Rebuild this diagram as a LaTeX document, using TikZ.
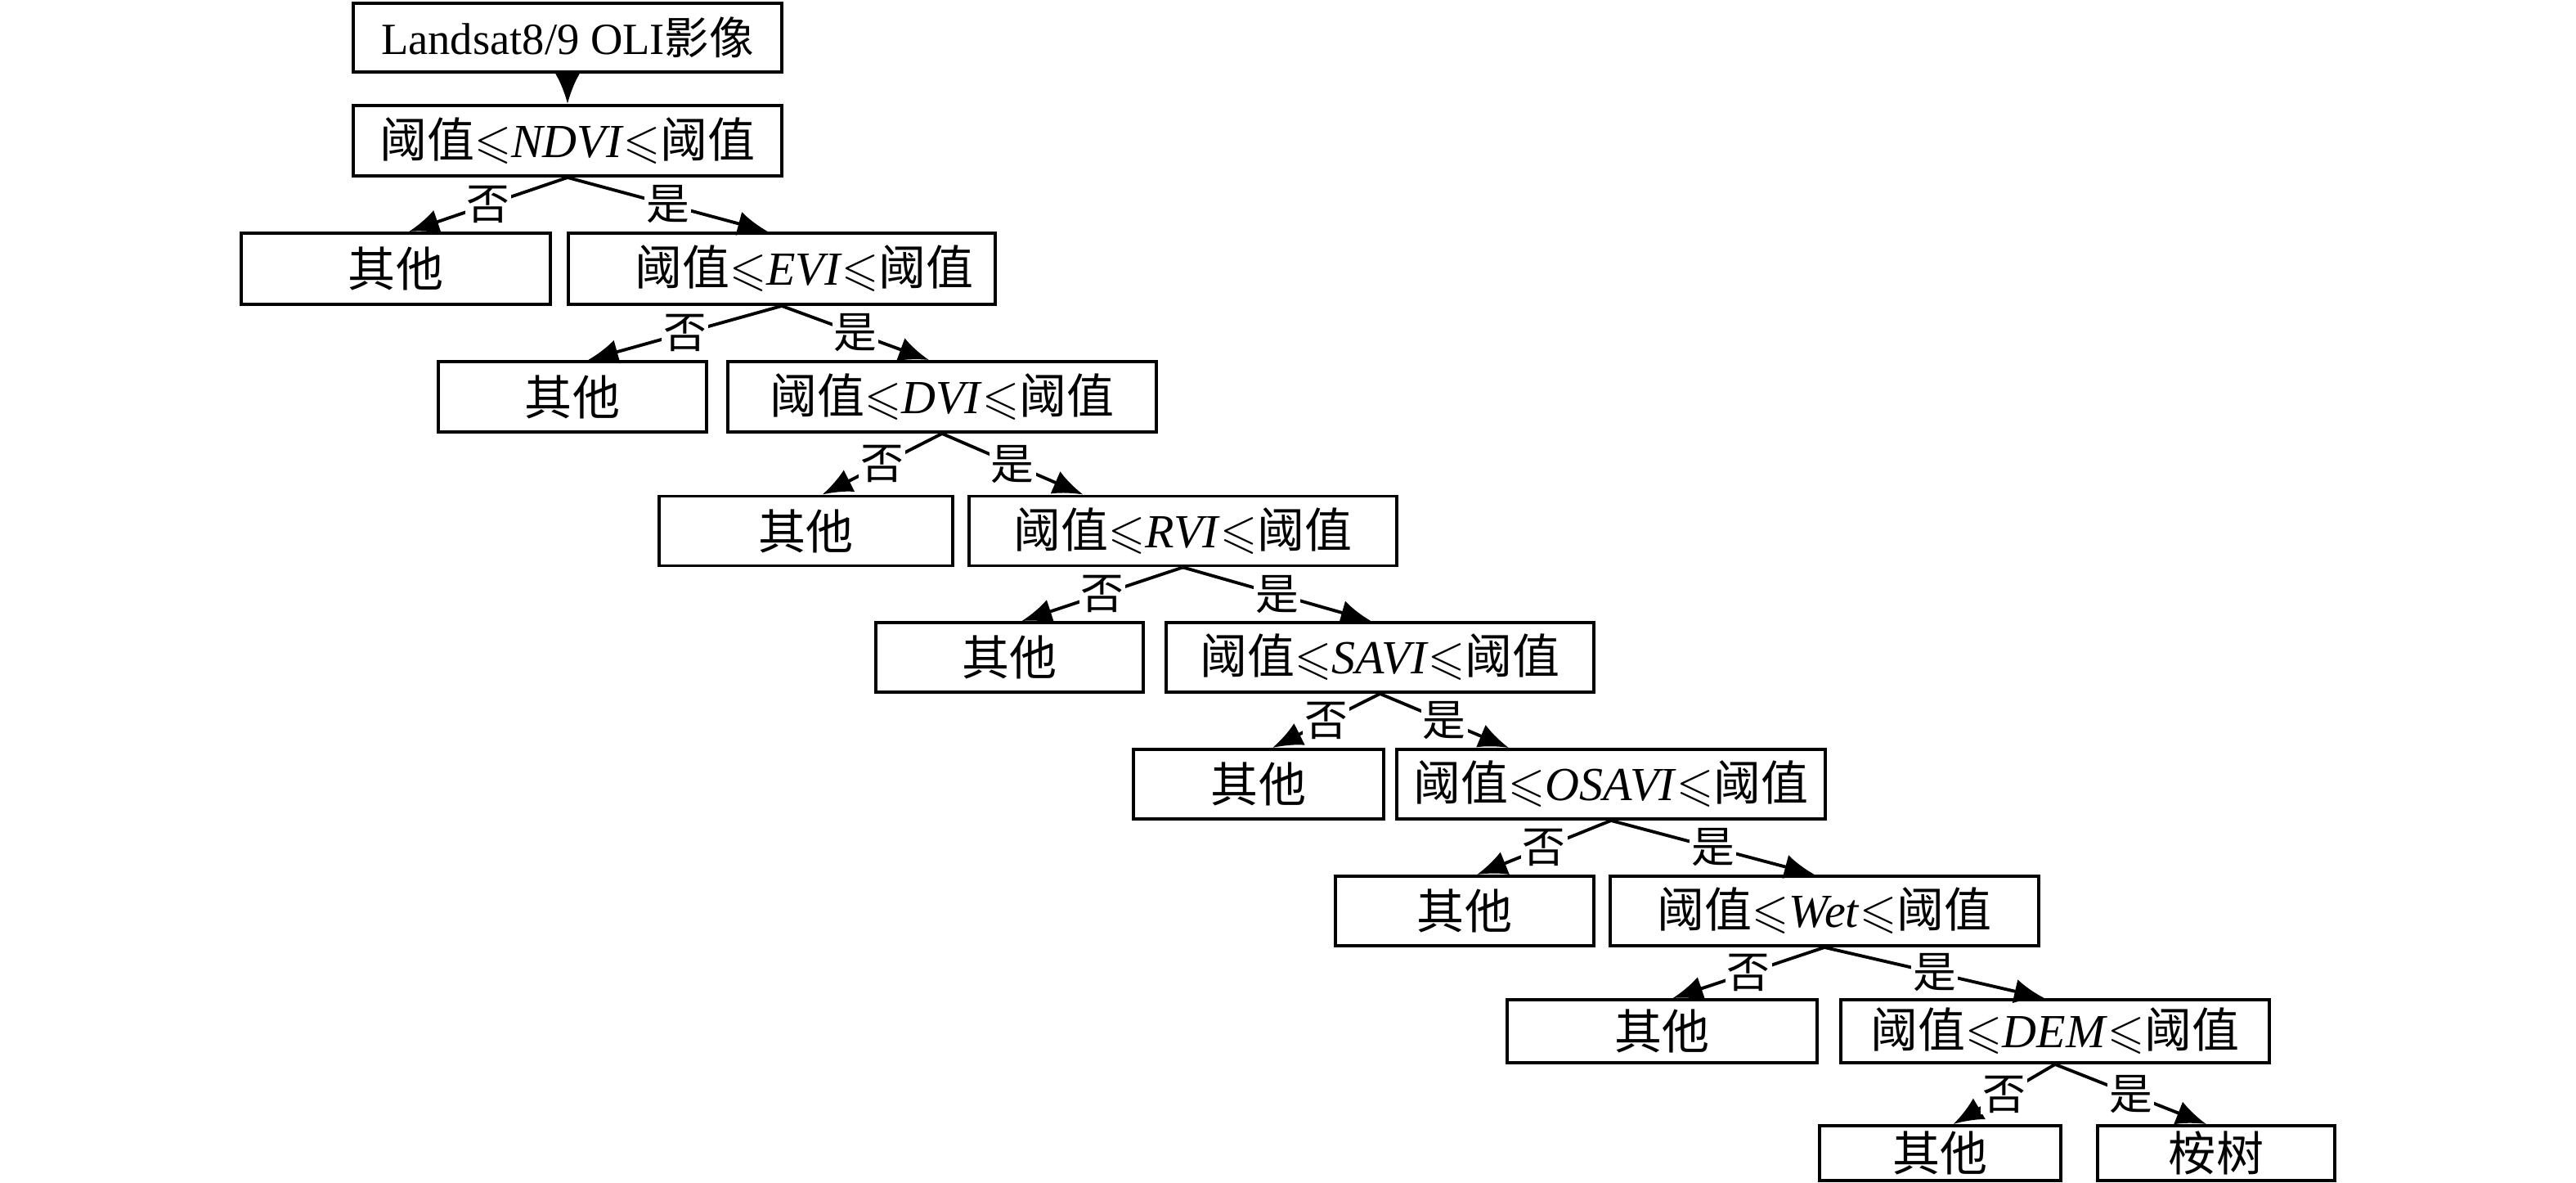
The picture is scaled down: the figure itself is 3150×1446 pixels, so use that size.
\documentclass[tikz,border=0pt]{standalone}
\usepackage{amssymb}
\usepackage{fontspec}
\setmainfont{Liberation Serif}
\newfontfamily\cjk{Noto Sans CJK SC}
\usetikzlibrary{arrows.meta,calc}
\newcommand{\thrtext}[1]{{\cjk 阈值}$\leqslant$\textit{#1}$\leqslant${\cjk 阈值}}
\begin{document}
\begin{tikzpicture}[x=0.01cm,y=-0.01cm,
  font=\fontsize{16.5pt}{19pt}\selectfont,
  box/.style={draw, line width=1.1pt, rectangle, inner sep=0pt},
  arr/.style={line width=1.1pt, -{Latex[length=10.5pt,width=8.5pt]}},
  lab/.style={fill=white, inner sep=0.6pt, font=\fontsize{15pt}{17pt}\selectfont\cjk}]
\useasboundingbox (0,0) rectangle (3150,1446);
% boxes
\node[box, minimum width=5.24cm, minimum height=0.84cm] (n0) at (694,46) {\fontsize{15.5pt}{19pt}\selectfont Landsat8/9 OLI{\cjk 影像}};
\node[box, minimum width=5.24cm, minimum height=0.86cm] (n1) at (694,172) {\thrtext{NDVI}};
\node[box, minimum width=3.78cm, minimum height=0.87cm] (o1) at (484,328.5) {\cjk 其他};
\node[box, minimum width=5.22cm, minimum height=0.87cm] (n2) at (956,328.5) {\hspace{0.55cm}\thrtext{EVI}};
\node[box, minimum width=3.28cm, minimum height=0.86cm] (o2) at (700,485) {\cjk 其他};
\node[box, minimum width=5.24cm, minimum height=0.86cm] (n3) at (1152,485) {\thrtext{DVI}};
\node[box, minimum width=3.59cm, minimum height=0.85cm] (o3) at (985.5,649) {\cjk 其他};
\node[box, minimum width=5.23cm, minimum height=0.85cm] (n4) at (1446.5,649) {\thrtext{RVI}};
\node[box, minimum width=3.27cm, minimum height=0.85cm] (o4) at (1234.5,803.5) {\cjk 其他};
\node[box, minimum width=5.23cm, minimum height=0.85cm] (n5) at (1687.5,803.5) {\thrtext{SAVI}};
\node[box, minimum width=3.06cm, minimum height=0.85cm] (o5) at (1539,958.5) {\cjk 其他};
\node[box, minimum width=5.24cm, minimum height=0.85cm] (n6) at (1970,958.5) {\thrtext{OSAVI}};
\node[box, minimum width=3.16cm, minimum height=0.85cm] (o6) at (1791,1113.5) {\cjk 其他};
\node[box, minimum width=5.24cm, minimum height=0.85cm] (n7) at (2231,1113.5) {\thrtext{Wet}};
\node[box, minimum width=3.79cm, minimum height=0.77cm] (o7) at (2032.5,1260.5) {\cjk 其他};
\node[box, minimum width=5.24cm, minimum height=0.77cm] (n8) at (2513,1260.5) {\thrtext{DEM}};
\node[box, minimum width=2.95cm, minimum height=0.67cm] (o8) at (2372.5,1409.5) {\cjk 其他};
\node[box, minimum width=2.90cm, minimum height=0.67cm] (t8) at (2710,1409.5) {\cjk 桉树};
% connectors
\draw[arr] (n0.south) -- (n1.north);
\draw[arr] (n1.south) -- ($(o1.north)+(16,0)$) node[lab, midway] {否};
\draw[arr] (n1.south) -- ($(n2.north)+(-17,0)$) node[lab, midway] {是};
\draw[arr] (n2.south) -- ($(o2.north)+(19,0)$) node[lab, midway] {否};
\draw[arr] (n2.south) -- ($(n3.north)+(-16,0)$) node[lab, midway] {是};
\draw[arr] (n3.south) -- ($(o3.north)+(20,0)$) node[lab, midway] {否};
\draw[arr] (n3.south) -- ($(n4.north)+(-122,0)$) node[lab, midway] {是};
\draw[arr] (n4.south) -- ($(o4.north)+(15,0)$) node[lab, midway] {否};
\draw[arr] (n4.south) -- ($(n5.north)+(-11,0)$) node[lab, midway] {是};
\draw[arr] (n5.south) -- ($(o5.north)+(17,0)$) node[lab, midway] {否};
\draw[arr] (n5.south) -- ($(n6.north)+(-125,0)$) node[lab, midway] {是};
\draw[arr] (n6.south) -- ($(o6.north)+(15,0)$) node[lab, midway] {否};
\draw[arr] (n6.south) -- ($(n7.north)+(-12,0)$) node[lab, midway] {是};
\draw[arr] (n7.south) -- ($(o7.north)+(13,0)$) node[lab, midway] {否};
\draw[arr] (n7.south) -- ($(n8.north)+(-13,0)$) node[lab, midway] {是};
\draw[arr] (n8.south) -- ($(o8.north)+(16,0)$) node[lab, midway] {否};
\draw[arr] (n8.south) -- ($(t8.north)+(-12,0)$) node[lab, midway] {是};
\end{tikzpicture}
\end{document}
